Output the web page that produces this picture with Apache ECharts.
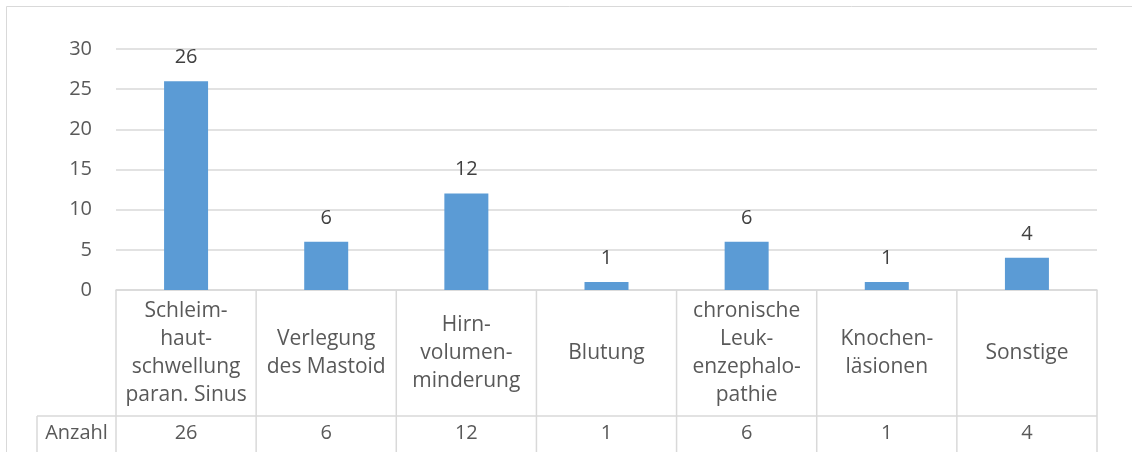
<!DOCTYPE html>
<html>
<head>
<meta charset="utf-8">
<script src="https://cdn.jsdelivr.net/npm/echarts@6/dist/echarts.min.js"></script>
<style>
  html, body { margin: 0; padding: 0; background: #fff; }
  #chart { width: 1132px; height: 452px; }
</style>
</head>
<body>
<div id="chart"></div>
<script>
// Befunde (Kategorien) und Anzahl der Fälle
const categories = [
  'Schleim-\nhaut-\nschwellung\nparan. Sinus',
  'Verlegung\ndes Mastoid',
  'Hirn-\nvolumen-\nminderung',
  'Blutung',
  'chronische\nLeuk-\nenzephalo-\npathie',
  'Knochen-\nläsionen',
  'Sonstige'
];
const counts = [26, 6, 12, 1, 6, 1, 4];
const seriesName = 'Anzahl';
const yMin = 0, yMax = 30, yStep = 5;

const FONT = '"Open Sans", "Noto Sans", sans-serif';
const TEXT = '#595959';
const LINE = '#d9d9d9';
const BAR = '#5b9bd5';

const chart = echarts.init(document.getElementById('chart'), null, { renderer: 'canvas' });

const option = {
  animation: false,
  backgroundColor: '#ffffff',
  textStyle: { fontFamily: FONT },
  grid: { left: 116, right: 35, top: 49, bottom: 162, containLabel: false },
  xAxis: [
    {
      type: 'category',
      data: categories,
      position: 'bottom',
      axisLine: { show: true, lineStyle: { color: LINE, width: 1.5 } },
      axisTick: { show: false },
      axisLabel: {
        interval: 0, margin: 63, verticalAlign: 'middle', align: 'center',
        fontFamily: FONT, fontSize: 21, lineHeight: 28, color: TEXT
      }
    },
    {
      // Wertezeile der Datentabelle
      type: 'category',
      data: counts.map(String),
      position: 'bottom',
      axisLine: { show: false },
      axisTick: { show: false },
      splitLine: { show: false },
      axisLabel: {
        interval: 0, margin: 143, verticalAlign: 'middle', align: 'center',
        fontFamily: FONT, fontSize: 20, color: TEXT
      }
    }
  ],
  yAxis: {
    type: 'value',
    min: yMin, max: yMax, interval: yStep,
    axisLine: { show: false },
    axisTick: { show: false },
    splitLine: { lineStyle: { color: LINE, width: 1.5 } },
    axisLabel: { margin: 24, fontFamily: FONT, fontSize: 20, color: TEXT }
  },
  series: [{
    name: seriesName,
    type: 'bar',
    xAxisIndex: 0,
    data: counts,
    barWidth: 44,
    itemStyle: { color: BAR },
    label: {
      show: true, position: 'top', distance: 14,
      fontFamily: FONT, fontSize: 20, color: '#404040'
    }
  }]
};
chart.setOption(option);

// Datentabelle unter der Achse: Gitterlinien aus den Achsenpositionen ableiten
function drawTable() {
  const centers = categories.map((c, i) => chart.convertToPixel({ xAxisIndex: 0 }, i));
  const step = centers.length > 1 ? centers[1] - centers[0] : 140;
  const bounds = [centers[0] - step / 2].concat(centers.map(c => c + step / 2));
  const y0 = chart.convertToPixel({ yAxisIndex: 0 }, yMin);
  const H = chart.getHeight();
  const rowY = y0 + 126;
  const headLeft = 37;
  const ls = { stroke: LINE, lineWidth: 1.5 };
  const els = [];
  // Rahmen des Diagrammbereichs
  els.push({ type: 'rect', shape: { x: 6.5, y: 6.5, width: 2000, height: 2000 }, style: { fill: null, stroke: LINE, lineWidth: 1 }, silent: true, z: -1 });
  bounds.forEach(x => {
    els.push({ type: 'line', shape: { x1: x, y1: y0, x2: x, y2: H }, style: ls, silent: true });
  });
  els.push({ type: 'line', shape: { x1: headLeft, y1: rowY, x2: bounds[bounds.length - 1], y2: rowY }, style: ls, silent: true });
  els.push({ type: 'line', shape: { x1: headLeft, y1: rowY, x2: headLeft, y2: H }, style: ls, silent: true });
  els.push({
    type: 'text',
    x: (headLeft + bounds[0]) / 2, y: rowY + 17,
    style: { text: seriesName, fontFamily: FONT, fontSize: 20, fill: TEXT, align: 'center', verticalAlign: 'middle' },
    silent: true
  });
  chart.setOption({ graphic: { elements: els } });
}
drawTable();
</script>
</body>
</html>
